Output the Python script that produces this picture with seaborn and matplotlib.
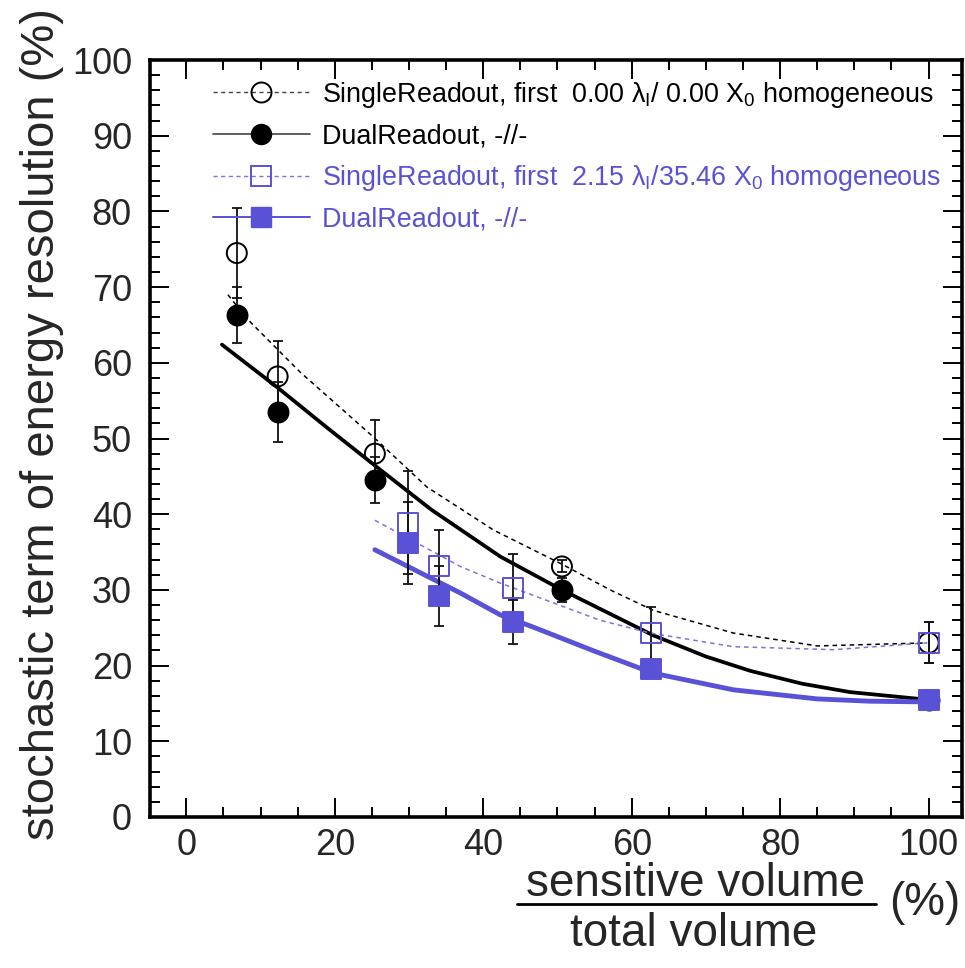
import numpy as np
import pandas as pd
import matplotlib
matplotlib.use("Agg")
import matplotlib.pyplot as plt
import seaborn as sns
from matplotlib.lines import Line2D
from matplotlib.legend_handler import HandlerLine2D
from matplotlib.ticker import MultipleLocator

# ---------------- data ----------------
x_black = [6.8, 12.3, 25.4, 50.6, 100.0]
single_black = [74.5, 58.2, 48.0, 33.1, 23.0]
single_black_err = [5.9, 4.7, 4.4, 0.8, 2.7]
dual_black = [66.3, 53.5, 44.5, 30.0, 15.5]
dual_black_err = [3.7, 3.9, 3.0, 1.6, 1.2]

x_blue = [29.8, 34.1, 44.0, 62.6, 100.0]
single_blue = [38.9, 33.1, 30.3, 24.3, 23.0]
single_blue_err = [6.8, 4.8, 4.4, 3.4, 2.7]
dual_blue = [36.2, 29.2, 25.8, 19.5, 15.5]
dual_blue_err = [5.4, 4.0, 2.9, 1.0, 1.3]

fit_sb_x = [5.6, 8.1, 15.3, 25.2, 32.4, 41.4, 50.6, 57.1, 62.9, 73.7, 85.0, 99.8]
fit_sb_y = [69.0, 65.9, 58.8, 50.2, 43.6, 37.9, 33.4, 30.0, 27.3, 24.3, 22.6, 23.0]
fit_db_x = [4.8, 12.2, 19.0, 25.7, 33.0, 42.3, 50.6, 62.9, 70.0, 76.0, 83.0, 89.4, 99.8]
fit_db_y = [62.4, 56.8, 51.4, 46.2, 40.6, 34.4, 30.0, 24.0, 21.2, 19.3, 17.6, 16.5, 15.5]
fit_sbl_x = [25.4, 36.9, 42.3, 55.7, 62.5, 73.7, 87.2, 99.8]
fit_sbl_y = [39.2, 33.1, 30.9, 26.0, 24.3, 22.5, 22.1, 23.0]
fit_dbl_x = [25.4, 36.9, 42.3, 46.7, 55.0, 62.9, 73.7, 85.0, 92.0, 99.8]
fit_dbl_y = [35.3, 29.6, 26.7, 25.1, 21.9, 19.0, 16.8, 15.6, 15.3, 15.2]

labels = [
    "SingleReadout, first  0.00 λ$_\\mathregular{I}$/ 0.00 X$_\\mathregular{0}$ homogeneous",
    "DualReadout, -//-",
    "SingleReadout, first  2.15 λ$_\\mathregular{I}$/35.46 X$_\\mathregular{0}$ homogeneous",
    "DualReadout, -//-",
]
x_ticks = [0, 20, 40, 60, 80, 100]
y_ticks = [0, 10, 20, 30, 40, 50, 60, 70, 80, 90, 100]

# ---------------- style ----------------
sns.set_style("ticks")
plt.rcParams['font.family'] = ['Liberation Sans', 'DejaVu Sans']
plt.rcParams['mathtext.fontset'] = 'custom'
plt.rcParams['mathtext.rm'] = 'Liberation Sans'

BLUE = '#5a52d6'
BLUE_LIGHT = '#7a74e0'
BLACK = '#000000'

fig = plt.figure(figsize=(9.65, 9.68), dpi=100)
ax = fig.add_axes([0.1554, 0.156, 0.8415, 0.782])

# fit curves
curves = [
    (fit_sb_x, fit_sb_y, BLACK, 1.1, (3.0, 2.6)),
    (fit_db_x, fit_db_y, BLACK, 2.7, None),
    (fit_sbl_x, fit_sbl_y, BLUE_LIGHT, 1.1, (3.0, 2.6)),
    (fit_dbl_x, fit_dbl_y, BLUE, 3.5, None),
]
for cx, cy, col, lw, dash in curves:
    df = pd.DataFrame({'x': cx, 'y': cy})
    sns.lineplot(data=df, x='x', y='y', ax=ax, color=col, lw=lw,
                 estimator=None, sort=False, legend=False, zorder=2)
    if dash is not None:
        ax.lines[-1].set_dashes(dash)

# error bars
for xs, ys, es in [(x_black, single_black, single_black_err),
                   (x_black, dual_black, dual_black_err),
                   (x_blue, single_blue, single_blue_err),
                   (x_blue, dual_blue, dual_blue_err)]:
    ax.errorbar(xs, ys, yerr=es, fmt='none', ecolor='#111111', elinewidth=1.3,
                capsize=3.5, capthick=1.3, zorder=3)

ms = 14.4
mk_specs = [
    (x_black, single_black, 'o', 'none', BLACK),
    (x_black, dual_black, 'o', BLACK, BLACK),
    (x_blue, single_blue, 's', 'none', BLUE),
    (x_blue, dual_blue, 's', BLUE, BLUE),
]
for xs, ys, m, fc, ec in mk_specs:
    df = pd.DataFrame({'x': xs, 'y': ys})
    sns.scatterplot(data=df, x='x', y='y', ax=ax, marker=m, s=ms**2,
                    facecolor=fc, edgecolor=ec, linewidth=1.4, zorder=4,
                    legend=False)

# axes
ax.set_xlim(-4.9, 104.5)
ax.set_ylim(0, 100)
ax.set_xticks(x_ticks)
ax.set_yticks(y_ticks)
ax.xaxis.set_minor_locator(MultipleLocator(5))
ax.yaxis.set_minor_locator(MultipleLocator(2))
ax.tick_params(which='both', direction='in', top=True, right=True,
               width=1.4, color='black')
ax.tick_params(which='major', length=14, labelsize=26)
ax.tick_params(which='minor', length=7)
ax.tick_params(axis='x', which='major', pad=8)
ax.tick_params(axis='y', which='major', pad=13)
for sp in ax.spines.values():
    sp.set_linewidth(2.6)
    sp.set_color('black')
ax.set_xlabel('')
ax.set_ylabel('')

# legend
class OffsetMarkerHandler(HandlerLine2D):
    def get_xdata(self, legend, xdescent, ydescent, width, height, fontsize):
        xdata = np.array([-xdescent, -xdescent + width])
        xdata_marker = np.array([-xdescent + 0.67 * width])
        return xdata, xdata_marker

handles = [
    Line2D([], [], color='#444444', lw=1.0, ls=(0, (3, 2.5)), marker='o', ms=ms,
           mfc='none', mec=BLACK, mew=1.4),
    Line2D([], [], color='#444444', lw=1.2, marker='o', ms=ms, mfc=BLACK, mec=BLACK),
    Line2D([], [], color=BLUE_LIGHT, lw=1.0, ls=(0, (3, 2.5)), marker='s', ms=ms,
           mfc='none', mec=BLUE, mew=1.4),
    Line2D([], [], color=BLUE, lw=1.4, marker='s', ms=ms, mfc=BLUE, mec=BLUE),
]
leg = ax.legend(handles, labels, loc='upper left', bbox_to_anchor=(0.0776, 0.974),
                frameon=False, fontsize=19.4, handlelength=3.6, handletextpad=0.45,
                labelspacing=0.51, borderpad=0, borderaxespad=0,
                labelcolor=[BLACK, BLACK, BLUE, BLUE],
                handler_map={Line2D: OffsetMarkerHandler()})

# axis titles
fig.text(42 / 965, 1 - 424 / 968, 'stochastic term of energy resolution (%)',
         rotation=90, ha='center', va='center', fontsize=34)
fig.text(696 / 965, 1 - 896 / 968, 'sensitive volume', ha='center', va='baseline',
         fontsize=33)
fig.text(694 / 965, 1 - 946 / 968, 'total volume', ha='center', va='baseline',
         fontsize=33)
fig.add_artist(Line2D([517 / 965, 876 / 965], [1 - 904 / 968, 1 - 904 / 968],
                      color='black', lw=2.0, transform=fig.transFigure))
fig.text(925 / 965, 1 - 903 / 968, '(%)', ha='center', va='center', fontsize=33)

fig.savefig('out.png', dpi=100)
